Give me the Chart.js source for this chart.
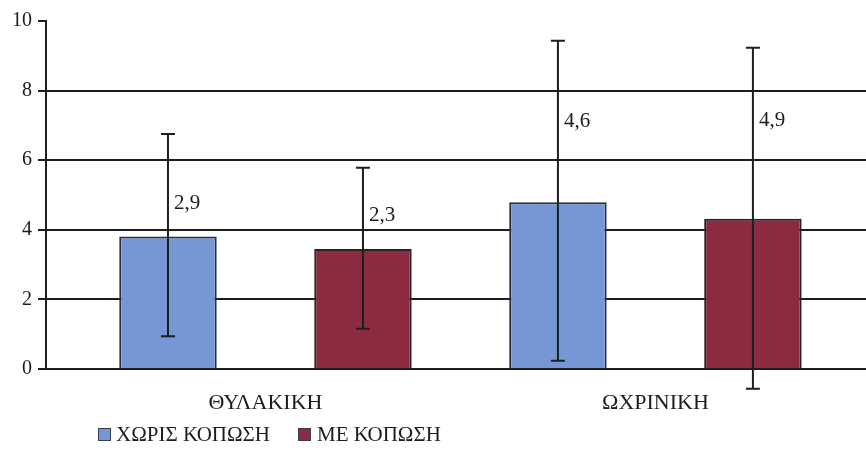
<!DOCTYPE html>
<html>
<head>
<meta charset="utf-8">
<script src="https://cdn.jsdelivr.net/npm/chart.js@4.4.1/dist/chart.umd.min.js"></script>
<style>
    html, body { margin: 0; padding: 0; background: #fff; }
    #wrap { width: 866px; height: 464px; }
</style>
</head>
<body>
<div id="wrap"><canvas id="Chart" width="866" height="464"></canvas></div>
<script>
// chart data
const categories = ['ΘΥΛΑΚΙΚΗ', 'ΩΧΡΙΝΙΚΗ'];
const seriesNames = ['ΧΩΡΙΣ ΚΟΠΩΣΗ', 'ΜΕ ΚΟΠΩΣΗ'];
const withoutFatigue = [3.81, 4.79];
const withFatigue = [3.45, 4.32];
const withoutLow = [0.94, 0.24];
const withoutHigh = [6.75, 9.43];
const withLow = [1.16, -0.57];
const withHigh = [5.78, 9.23];
const withoutLabels = ['2,9', '4,6'];
const withLabels = ['2,3', '4,9'];
const yTicks = [0, 2, 4, 6, 8, 10];

const FONT = "'Times New Roman', Times, Tinos, 'Noto Serif', 'DejaVu Serif', serif";
const INK = '#1c1c1c';
const LINE = '#1a2020';

function points(values)
{
    return values.map((v, i) => ({ x: i, y: v }));
}

// error bars + the little value labels next to them
const errorBars = {
    id: 'errorBars',
    afterDatasetsDraw(chart, args, opts)
    {
        const ctx = chart.ctx;
        const y = chart.scales.y;
        ctx.save();
        chart.data.datasets.forEach((ds, d) => {
            const meta = chart.getDatasetMeta(d);
            meta.data.forEach((bar, i) => {
                const top = y.getPixelForValue(ds.high[i]);
                const bot = y.getPixelForValue(ds.low[i]);
                ctx.strokeStyle = LINE;
                ctx.lineWidth = 2;
                ctx.beginPath();
                ctx.moveTo(bar.x, top);
                ctx.lineTo(bar.x, bot);
                ctx.moveTo(bar.x - 7, top);
                ctx.lineTo(bar.x + 7, top);
                ctx.moveTo(bar.x - 7, bot);
                ctx.lineTo(bar.x + 7, bot);
                ctx.stroke();

                ctx.fillStyle = INK;
                ctx.font = '21px ' + FONT;
                ctx.textAlign = 'left';
                ctx.textBaseline = 'middle';
                ctx.fillText(ds.valueLabels[i], bar.x + 6, y.getPixelForValue(opts.labelAt[d][i]));
            });
        });
        ctx.restore();
    }
};

// legend drawn by hand, the gap between box and text is tight
const smallLegend = {
    id: 'smallLegend',
    afterDraw(chart)
    {
        const ctx = chart.ctx;
        // box x, text start
        const spots = [[98, 116], [298, 317]];
        ctx.save();
        chart.data.datasets.forEach((ds, d) => {
            const s = spots[d];
            ctx.fillStyle = ds.backgroundColor;
            ctx.strokeStyle = '#3a3f4a';
            ctx.lineWidth = 1;
            ctx.fillRect(s[0], 428, 13, 13);
            ctx.strokeRect(s[0] + 0.5, 428.5, 12, 12);
            ctx.fillStyle = INK;
            ctx.font = '21px ' + FONT;
            ctx.textAlign = 'left';
            ctx.textBaseline = 'middle';
            ctx.fillText(ds.label, s[1], 435);
        });
        ctx.restore();
    }
};

new Chart(document.getElementById('Chart'), {
    type: 'bar',
    data: {
        datasets: [{
            label: seriesNames[0],
            data: points(withoutFatigue),
            low: withoutLow,
            high: withoutHigh,
            valueLabels: withoutLabels,
            backgroundColor: '#7597d6',
            borderColor: '#27303c',
            borderWidth: 2
        }, {
            label: seriesNames[1],
            data: points(withFatigue),
            low: withLow,
            high: withHigh,
            valueLabels: withLabels,
            backgroundColor: '#8c2b3f',
            borderColor: '#2a2226',
            borderWidth: 2
        }]
    },
    options: {
        responsive: false,
        animation: false,
        categoryPercentage: 1,
        barPercentage: 0.5,
        layout: { padding: { top: 21, right: 0, bottom: 35, left: 0 } },
        scales: {
            x: {
                type: 'linear',
                min: -0.5628,
                max: 1.54,
                offset: false,
                grid: { display: false, drawTicks: false },
                border: { display: false },
                afterBuildTicks: scale => { scale.ticks = categories.map((c, i) => ({ value: i })); },
                afterFit: scale => { scale.height = 60; },
                ticks: {
                    padding: 21,
                    color: INK,
                    font: { family: FONT, size: 22 },
                    callback: v => categories[v]
                }
            },
            y: {
                min: 0,
                max: 10,
                afterBuildTicks: scale => { scale.ticks = yTicks.map(v => ({ value: v })); },
                afterFit: scale => { scale.width = 46; },
                grid: {
                    color: ctx => ctx.tick && ctx.tick.value === 10 ? 'rgba(0,0,0,0)' : LINE,
                    tickColor: LINE,
                    lineWidth: 2,
                    tickLength: 8
                },
                border: { display: true, color: LINE, width: 2 },
                ticks: {
                    padding: 6,
                    color: INK,
                    font: { family: FONT, size: 20 }
                }
            }
        },
        plugins: {
            legend: { display: false },
            tooltip: { enabled: false },
            errorBars: { labelAt: [[4.77, 7.1], [4.40, 7.13]] }
        }
    },
    plugins: [errorBars, smallLegend]
});
</script>
</body>
</html>
